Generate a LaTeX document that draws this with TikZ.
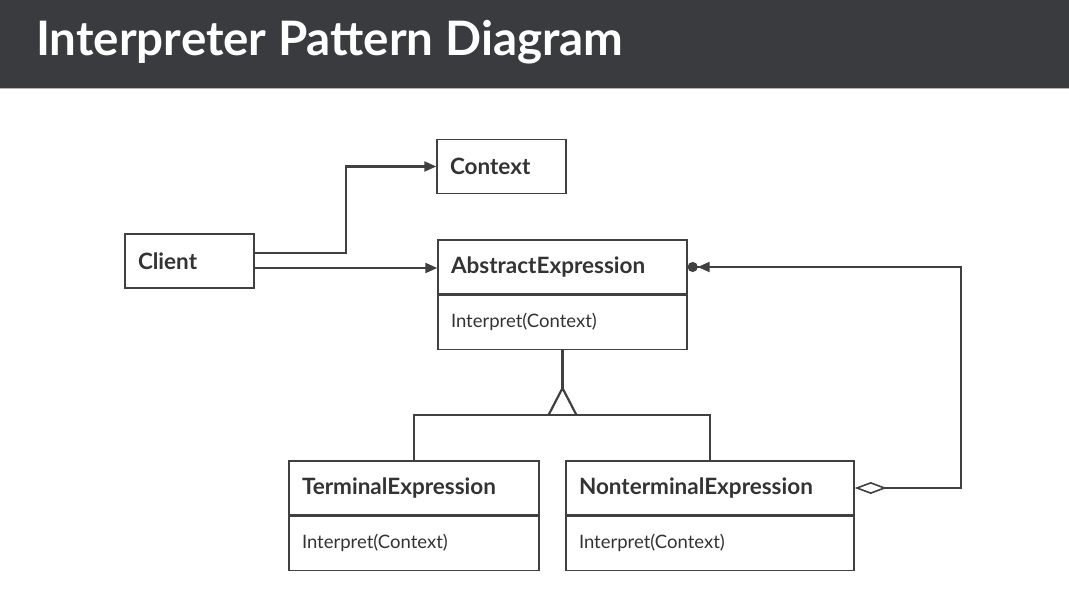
\documentclass[tikz,border=0pt]{standalone}
\usepackage{fontspec}
\setmainfont{Lato}
\usetikzlibrary{positioning,arrows.meta,calc}

\definecolor{barbg}{HTML}{3A3B3F}
\definecolor{linecol}{HTML}{404040}
\definecolor{textcol}{HTML}{333333}

\tikzset{
  classname/.style={draw=linecol, line width=1.4pt, text=textcol,
    font=\bfseries\fontsize{22.5}{26}\selectfont, text width=#1,
    align=left, inner xsep=13pt, inner ysep=0pt, minimum height=54pt},
  classop/.style={classname=#1, font=\fontsize{18.5}{22}\selectfont},
  conn/.style={draw=linecol, line width=2.2pt, line join=miter},
  tip/.style={-{Triangle[length=12pt,width=10pt]}}
}

\begin{document}
\begin{tikzpicture}[x=1pt,y=-1pt]
    \useasboundingbox (0,0) rectangle (1069,594);
    % title bar
    \fill[barbg] (0,0) rectangle (1069,88);
    \draw[gray!60,line width=1.5pt] (0,88.75) -- (1069,88.75);
    \node[anchor=base west, text=white, inner sep=0pt,
      font=\bfseries\fontsize{47.5}{52}\selectfont] (title) at (36,56)
      {Interpreter Pattern Diagram};

    % classes
    \node[classname=103pt] (context) at (501.5,166.5) {Context};
    \node[classname=103pt] (client) at (189.5,261) {Client};
    \node[classname=223pt] (absname) at (562.5,267) {AbstractExpression};
    \node[classop=223pt, below=0pt of absname] (absop) {Interpret(Context)};
    \node[classname=224pt] (termname) at (414,488) {TerminalExpression};
    \node[classop=224pt, below=0pt of termname] (termop) {Interpret(Context)};
    \node[classname=262pt] (ntname) at (710,488) {NonterminalExpression};
    \node[classop=262pt, below=0pt of ntname] (ntop) {Interpret(Context)};

    % client links
    \coordinate (c1) at ([yshift=8pt]client.east);
    \coordinate (c2) at ([yshift=-7pt]client.east);
    \draw[conn,tip] (c1) -- ++(91,0) |- (context.west);
    \draw[conn,tip] (c2) -- (c2 -| absname.west);

    % inheritance
    \coordinate (apex) at ([yshift=-38pt]absop.south);
    \coordinate (fork) at ([yshift=-65pt]absop.south);
    \draw[conn] (absop.south) -- (apex);
    \draw[conn] ($(apex)+(-14,27)$) -- (apex) -- ($(apex)+(14,27)$);
    \draw[conn] (termname.north) -- (termname.north |- fork)
      -- (ntname.north |- fork) -- (ntname.north);

    % aggregation
    \draw[conn, {Diamond[open,length=32pt,width=12pt,line width=1.6pt]}-{Triangle[length=12pt,width=10pt]Circle[length=10pt]}]
      (ntname.east) -- ++(106,0) |- (absname.east);
\end{tikzpicture}
\end{document}
